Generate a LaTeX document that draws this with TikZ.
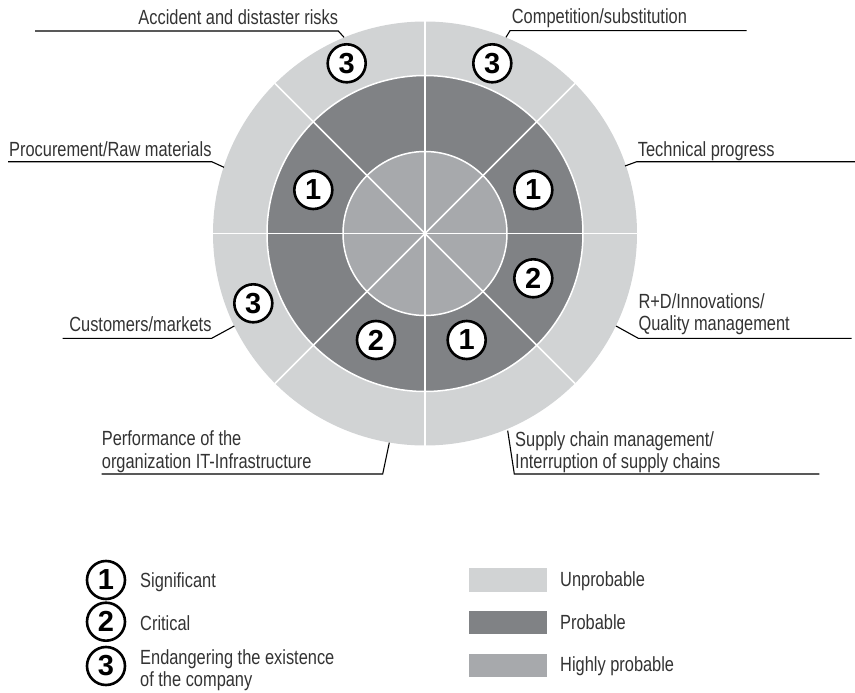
\documentclass[tikz,border=0pt]{standalone}
\usepackage{fontspec}
\setmainfont{Liberation Sans}[FakeStretch=0.8]
\newfontfamily\numfont{Liberation Sans}
\definecolor{lightc}{HTML}{D1D3D4}
\definecolor{darkc}{HTML}{808285}
\definecolor{midc}{HTML}{A7A9AC}
\definecolor{txtc}{HTML}{333333}
\begin{document}
\begin{tikzpicture}[x=1pt,y=-1pt,
  lbl/.style={inner sep=0pt, font=\fontsize{20.5}{22}\selectfont, text=txtc},
  lead/.style={line width=1.1pt, draw=black},
  num/.style={circle, draw=black, fill=white, line width=2.6pt, minimum size=38pt, inner sep=0pt, font=\numfont\bfseries\fontsize{29}{29}\selectfont},
  sep/.style={draw=white, line width=1.5pt},
  swatch/.style={inner sep=0pt, minimum width=77.7pt, minimum height=23.3pt}]
\useasboundingbox (0,0) rectangle (855,693);
% rings
\coordinate (c) at (425,233.5);
\fill[lightc] (c) circle[radius=212pt];
\filldraw[fill=darkc, sep] (c) circle[radius=158pt];
\filldraw[fill=midc, sep] (c) circle[radius=82pt];
\foreach \a in {0,45,90,135} \draw[sep] (c) ++(\a:212pt) -- ++(\a+180:424pt);
% rating circles
\node[num] (tl3) at (346.7,63.3) {3};
\node[num] (tr3) at (492.3,63.3) {3};
\node[num] (l1)  at (313.3,190) {1};
\node[num] (r1)  at (533.3,190) {1};
\node[num] (r2)  at (533.3,278.3) {2};
\node[num] (br1) at (466.7,340) {1};
\node[num] (bl2) at (376,340) {2};
\node[num] (l3)  at (253.3,303.3) {3};
% labels
\node[lbl, anchor=base east] (acc) at (338.3,25) {Accident and distaster risks};
\coordinate (acc0) at (35,31); \coordinate (acc1) at (338.3,31); \coordinate (acc2) at (344,37.3);
\draw[lead] (acc0) -- (acc1) -- (acc2);

\node[lbl, anchor=base west] (comp) at (511.7,24) {Competition/substitution};
\coordinate (comp0) at (746.7,30.7); \coordinate (comp1) at (510,30.7); \coordinate (comp2) at (506,37.3);
\draw[lead] (comp0) -- (comp1) -- (comp2);

\node[lbl, anchor=base east] (proc) at (211.7,156.7) {Procurement/Raw materials};
\coordinate (proc0) at (8,161.7); \coordinate (proc1) at (211.7,161.7); \coordinate (proc2) at (224,167.3);
\draw[lead] (proc0) -- (proc1) -- (proc2);

\node[lbl, anchor=base west] (tech) at (637.7,156.7) {Technical progress};
\coordinate (tech0) at (855,161.7); \coordinate (tech1) at (636.7,161.7); \coordinate (tech2) at (625,166);
\draw[lead] (tech0) -- (tech1) -- (tech2);

\node[lbl, anchor=base west] (rd1) at (638.3,308) {R+D/Innovations/};
\node[lbl, anchor=base west] (rd2) at (638.3,330) {Quality management};
\coordinate (rd0) at (851.7,338.3); \coordinate (rdc) at (638.3,338.3); \coordinate (rde) at (616,326);
\draw[lead] (rd0) -- (rdc) -- (rde);

\node[lbl, anchor=base east] (cust) at (211.7,331.7) {Customers/markets};
\coordinate (cust0) at (62.7,338.3); \coordinate (cust1) at (211.7,338.3); \coordinate (cust2) at (234.3,326);
\draw[lead] (cust0) -- (cust1) -- (cust2);

\node[lbl, anchor=base west] (perf1) at (101.7,445) {Performance of the};
\node[lbl, anchor=base west] (perf2) at (101.7,468) {organization IT-Infrastructure};
\coordinate (perf0) at (101.7,474); \coordinate (perfc) at (382.7,474); \coordinate (perfe) at (389.3,442.7);
\draw[lead] (perf0) -- (perfc) -- (perfe);

\node[lbl, anchor=base west] (sup1) at (515,446.7) {Supply chain management/};
\node[lbl, anchor=base west] (sup2) at (515,468.3) {Interruption of supply chains};
\coordinate (sup0) at (819.3,474); \coordinate (supc) at (514.3,474); \coordinate (supe) at (507.7,430.7);
\draw[lead] (sup0) -- (supc) -- (supe);

% legend: ratings
\node[num] (lg1) at (106,580) {1};
\node[num] (lg2) at (106,621.7) {2};
\node[num] (lg3) at (106,666) {3};
\node[lbl, anchor=base west] (lt1) at (140,587) {Significant};
\node[lbl, anchor=base west] (lt2) at (140,630) {Critical};
\node[lbl, anchor=base west] (lt3a) at (140,664.3) {Endangering the existence};
\node[lbl, anchor=base west] (lt3b) at (140,686.7) {of the company};

% legend: probability
\node[swatch, fill=lightc] (sw1) at (507.85,580) {};
\node[swatch, fill=darkc]  (sw2) at (507.85,622.65) {};
\node[swatch, fill=midc]   (sw3) at (507.85,665.8) {};
\node[lbl, anchor=base west] (pt1) at (560,586.7) {Unprobable};
\node[lbl, anchor=base west] (pt2) at (560,629.3) {Probable};
\node[lbl, anchor=base west] (pt3) at (560,671.7) {Highly probable};
\end{tikzpicture}
\end{document}
